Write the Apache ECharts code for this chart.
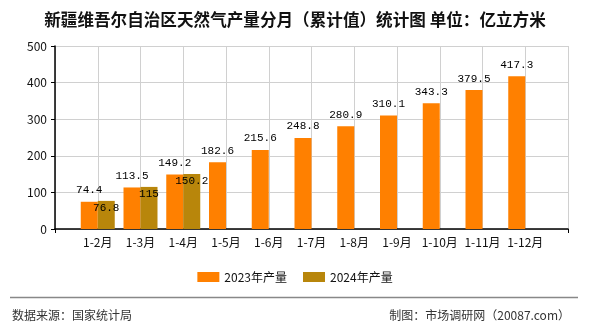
<!DOCTYPE html>
<html>
<head>
<meta charset="utf-8">
<script src="https://cdn.jsdelivr.net/npm/echarts@6/dist/echarts.min.js"></script>
<style>
  html, body { margin: 0; padding: 0; background: #fff; }
  #chart { width: 590px; height: 330px; }
</style>
</head>
<body>
<div id="chart"></div>
<script>
// Month ranges (cumulative); blank slots pad the axis at both ends
const categories = ['', '1-2月', '1-3月', '1-4月', '1-5月', '1-6月', '1-7月', '1-8月', '1-9月', '1-10月', '1-11月', '1-12月', ''];
const output2023 = ['-', 74.4, 113.5, 149.2, 182.6, 215.6, 248.8, 280.9, 310.1, 343.3, 379.5, 417.3, '-'];
const output2024 = ['-', 76.8, 115, 150.2, '-', '-', '-', '-', '-', '-', '-', '-', '-'];
const yTicks = { min: 0, max: 500, interval: 100 };

const chart = echarts.init(document.getElementById('chart'));
const monoFont = '"Liberation Mono", "DejaVu Sans Mono", monospace';
const sansFont = '"Noto Sans CJK SC", "Noto Sans", sans-serif';

chart.setOption({
  animation: false,
  backgroundColor: '#ffffff',
  title: {
    text: '新疆维吾尔自治区天然气产量分月（累计值）统计图 单位：亿立方米',
    left: 'center',
    top: 6,
    textStyle: { fontFamily: sansFont, fontSize: 16.6, fontWeight: 'bold', color: '#111' }
  },
  legend: {
    top: 266,
    left: 'center',
    itemWidth: 22,
    itemHeight: 10,
    itemGap: 16,
    icon: 'rect',
    textStyle: { fontFamily: sansFont, fontSize: 12, color: '#111' },
    data: ['2023年产量', '2024年产量']
  },
  grid: { left: 55, right: 22, top: 46, bottom: 101, containLabel: false },
  xAxis: {
    type: 'category',
    data: categories,
    boundaryGap: false,
    axisLine: { lineStyle: { color: '#000', width: 1.5 } },
    axisTick: {
      show: true,
      length: 4,
      interval: function (i) { return i === 0 || i === categories.length - 1; },
      lineStyle: { color: '#000' }
    },
    axisLabel: { interval: 0, margin: 7, fontFamily: sansFont, fontSize: 12, color: '#111' },
    splitLine: { show: true, interval: 0, lineStyle: { color: '#d0d0d0', width: 1 } }
  },
  yAxis: {
    type: 'value',
    min: yTicks.min,
    max: yTicks.max,
    interval: yTicks.interval,
    axisLine: { show: true, lineStyle: { color: '#000', width: 1.5 } },
    axisTick: { show: true, length: 4, lineStyle: { color: '#000' } },
    axisLabel: { margin: 8, fontFamily: sansFont, fontSize: 12, color: '#111' },
    splitLine: { show: true, lineStyle: { color: '#d0d0d0', width: 1 } }
  },
  series: [
    {
      name: '2023年产量',
      type: 'bar',
      data: output2023,
      barWidth: 17,
      barGap: '0%',
      itemStyle: { color: '#FF8000' },
      label: {
        show: true,
        position: 'top',
        distance: 6,
        fontFamily: monoFont,
        fontSize: 11,
        color: '#000'
      }
    },
    {
      name: '2024年产量',
      type: 'bar',
      data: output2024,
      barWidth: 17,
      barGap: '0%',
      itemStyle: { color: '#B8860B' },
      label: {
        show: true,
        position: 'insideTop',
        distance: 2,
        fontFamily: monoFont,
        fontSize: 11,
        color: '#000'
      }
    }
  ],
  graphic: [
    {
      type: 'line',
      shape: { x1: 10, y1: 297.5, x2: 578, y2: 297.5 },
      style: { stroke: '#888', lineWidth: 1.5 }
    },
    {
      type: 'text',
      left: 12,
      top: 309,
      style: { text: '数据来源：国家统计局', font: '12px ' + sansFont, fill: '#333' }
    },
    {
      type: 'text',
      right: 20,
      top: 309,
      style: { text: '制图：市场调研网（20087.com）', font: '12px ' + sansFont, fill: '#333' }
    }
  ]
});
</script>
</body>
</html>
